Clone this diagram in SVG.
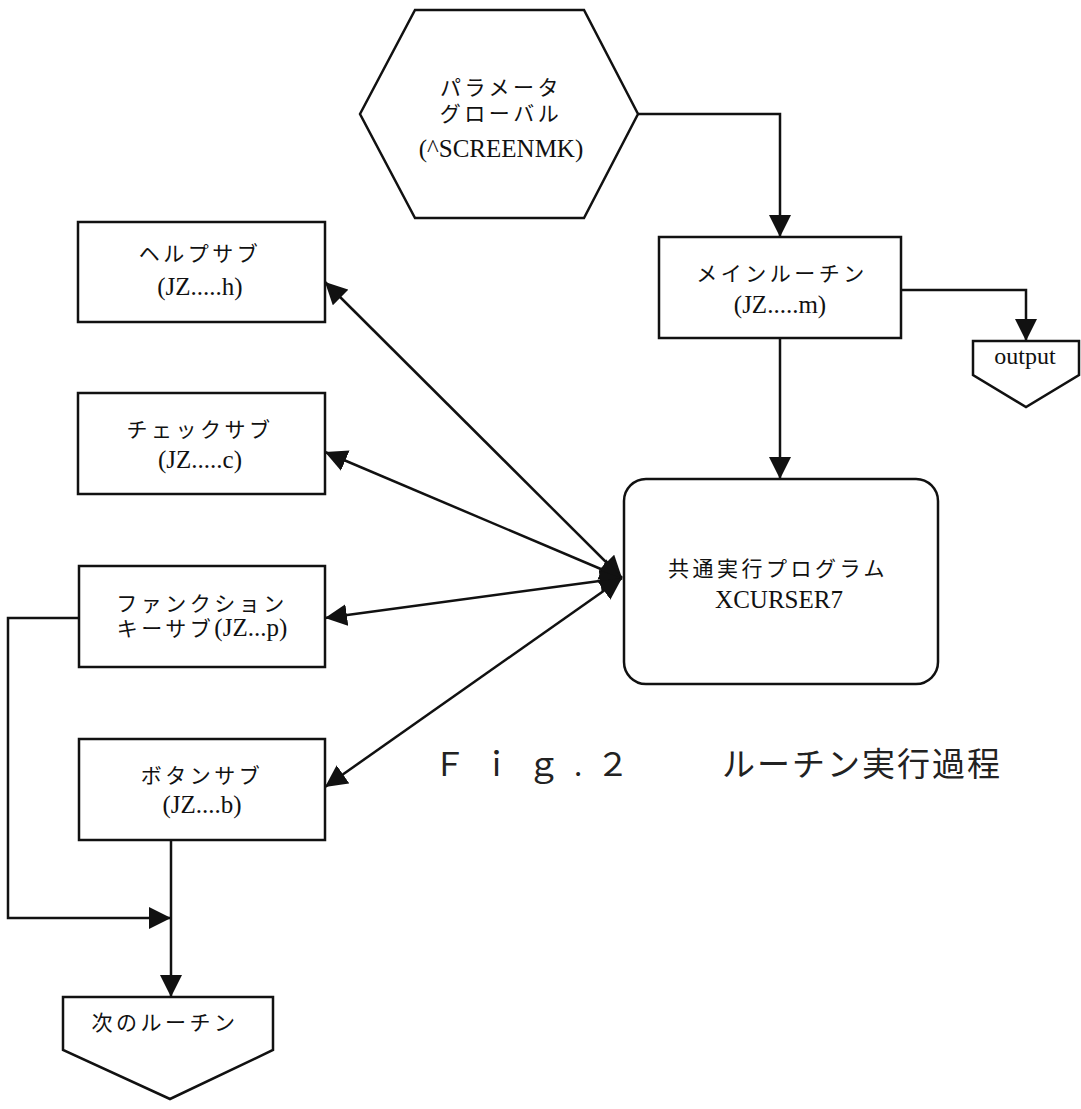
<svg xmlns="http://www.w3.org/2000/svg" width="1081" height="1109" viewBox="0 0 1081 1109">
<style>
.shape{fill:#fff;stroke:#111;stroke-width:2.5}
.conn{fill:none;stroke:#111;stroke-width:2.5}
.jp{font-family:"Liberation Serif","Noto Sans CJK JP",serif;font-size:21px;letter-spacing:3.5px;fill:#111;text-anchor:middle}
.lt{font-family:"Liberation Serif","Noto Sans CJK JP",serif;font-size:25px;fill:#111;text-anchor:middle}
.cap{font-family:"Liberation Serif","Noto Sans CJK JP",serif;font-size:33px;fill:#222}
</style>
<defs>
<marker id="ah" viewBox="0 0 22 22" refX="22" refY="11" markerWidth="22" markerHeight="22" markerUnits="userSpaceOnUse" orient="auto-start-reverse">
<path d="M0,0 L22,11 L0,22 z" fill="#111"/>
</marker>
</defs>
<rect width="1081" height="1109" fill="#fff"/>
<g id="connectors">
<path class="conn" d="M638,114 H780 V237" marker-end="url(#ah)"/>
<path class="conn" d="M780,338 V479" marker-end="url(#ah)"/>
<path class="conn" d="M901,290 H1026 V341" marker-end="url(#ah)"/>
<path class="conn" d="M622,578 L325,282" marker-start="url(#ah)" marker-end="url(#ah)"/>
<path class="conn" d="M622,578 L325,452" marker-start="url(#ah)" marker-end="url(#ah)"/>
<path class="conn" d="M622,578 L325,618" marker-start="url(#ah)" marker-end="url(#ah)"/>
<path class="conn" d="M622,578 L325,787" marker-start="url(#ah)" marker-end="url(#ah)"/>
<path class="conn" d="M171,840 V997" marker-end="url(#ah)"/>
<path class="conn" d="M79,618 H8 V918 H171" marker-end="url(#ah)"/>
</g>
<g id="param">
<polygon class="shape" points="360,114 415,10 584,10 638,114 584,218 415,218"/>
<text class="jp" x="501" y="95">パラメータ</text>
<text class="jp" x="501" y="121">グローバル</text>
<text class="lt" x="501" y="157">(^SCREENMK)</text>
</g>
<g id="main">
<rect class="shape" x="659" y="237" width="242" height="101"/>
<text class="jp" x="782" y="281">メインルーチン</text>
<text class="lt" x="780" y="313">(JZ.....m)</text>
</g>
<g id="output">
<polygon class="shape" points="973,341 1079,341 1079,375 1026,407 973,375"/>
<text class="lt" x="1025" y="364" style="font-size:24px">output</text>
</g>
<g id="common">
<rect class="shape" x="624" y="479" width="314" height="205" rx="22"/>
<text class="jp" x="778" y="576">共通実行プログラム</text>
<text class="lt" x="779" y="608">XCURSER7</text>
</g>
<g id="help">
<rect class="shape" x="78" y="222" width="247" height="100"/>
<text class="jp" x="200" y="261">ヘルプサブ</text>
<text class="lt" x="200" y="295">(JZ.....h)</text>
</g>
<g id="check">
<rect class="shape" x="78" y="393" width="247" height="101"/>
<text class="jp" x="200" y="437">チェックサブ</text>
<text class="lt" x="200" y="468">(JZ.....c)</text>
</g>
<g id="funckey">
<rect class="shape" x="79" y="566" width="246" height="101"/>
<text class="jp" x="202" y="611">ファンクション</text>
<text class="jp" x="202" y="636">キーサブ<tspan style="font-size:25px;letter-spacing:0">(JZ...p)</tspan></text>
</g>
<g id="button">
<rect class="shape" x="79" y="739" width="246" height="101"/>
<text class="jp" x="202" y="783">ボタンサブ</text>
<text class="lt" x="202" y="813">(JZ....b)</text>
</g>
<g id="next">
<polygon class="shape" points="63,997 273,997 273,1050 170,1099 63,1050"/>
<text class="jp" x="165" y="1030">次のルーチン</text>
</g>
<g id="caption">
<text class="cap" x="433" y="776" style="letter-spacing:14px">Ｆｉｇ.２</text>
<text class="cap" x="722" y="776" style="letter-spacing:2px">ルーチン実行過程</text>
</g>
</svg>
